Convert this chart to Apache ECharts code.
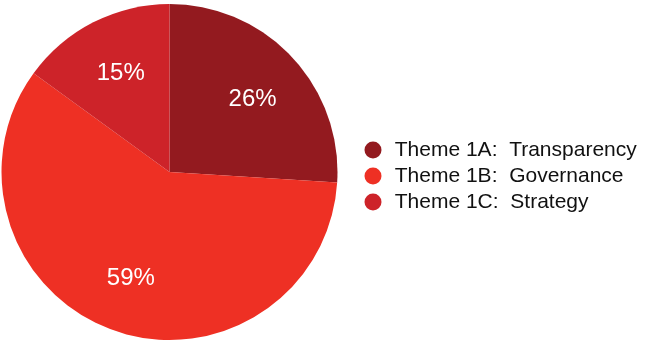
<!DOCTYPE html>
<html>
<head>
<meta charset="utf-8">
<script src="https://cdn.jsdelivr.net/npm/echarts@6/dist/echarts.min.js"></script>
<style>
  html, body { margin: 0; padding: 0; background: #ffffff; }
  #chart { width: 646px; height: 341px; }
</style>
</head>
<body>
<div id="chart"></div>
<script>
// Share of responses by theme (percent)
const themes = ['Theme 1A:  Transparency', 'Theme 1B:  Governance', 'Theme 1C:  Strategy'];
const shares = [26, 59, 15];
const colors = ['#931a1f', '#ee3024', '#cd2329'];

// small nudges for the percent labels inside the wedges
const labelNudge = [[0, 5], [0, -1], [3, 3]];

const slices = themes.map((name, i) => ({ name, value: shares[i], itemStyle: { color: colors[i] } }));

const chart = echarts.init(document.getElementById('chart'), null, { renderer: 'canvas' });
chart.setOption({
  animation: false,
  backgroundColor: '#ffffff',
  legend: {
    orient: 'vertical',
    left: 364.5,
    top: 139.5,
    icon: 'circle',
    itemWidth: 33.5,
    itemHeight: 17,
    itemGap: 5,
    padding: 0,
    selectedMode: false,
    textStyle: { fontFamily: 'Liberation Sans, Arial, sans-serif', fontSize: 21, color: '#111111' },
    data: themes
  },
  series: [
    {
      // filled wedges
      type: 'pie',
      center: [169.5, 172],
      radius: [0, 168],
      startAngle: 90,
      clockwise: true,
      silent: true,
      label: { show: false },
      labelLine: { show: false },
      itemStyle: { borderWidth: 0 },
      data: slices
    },
    {
      // transparent ring carrying the percent labels
      type: 'pie',
      center: [169.5, 172],
      radius: [54, 168],
      startAngle: 90,
      clockwise: true,
      silent: true,
      legendHoverLink: false,
      itemStyle: { color: 'rgba(0,0,0,0)', borderWidth: 0 },
      label: {
        show: true,
        position: 'inside',
        formatter: '{c}%',
        color: '#ffffff',
        fontFamily: 'Liberation Sans, Arial, sans-serif',
        fontSize: 24
      },
      labelLine: { show: false },
      data: themes.map((name, i) => ({
        name: name + ' ',
        value: shares[i],
        label: { offset: labelNudge[i] }
      }))
    }
  ]
});
</script>
</body>
</html>
